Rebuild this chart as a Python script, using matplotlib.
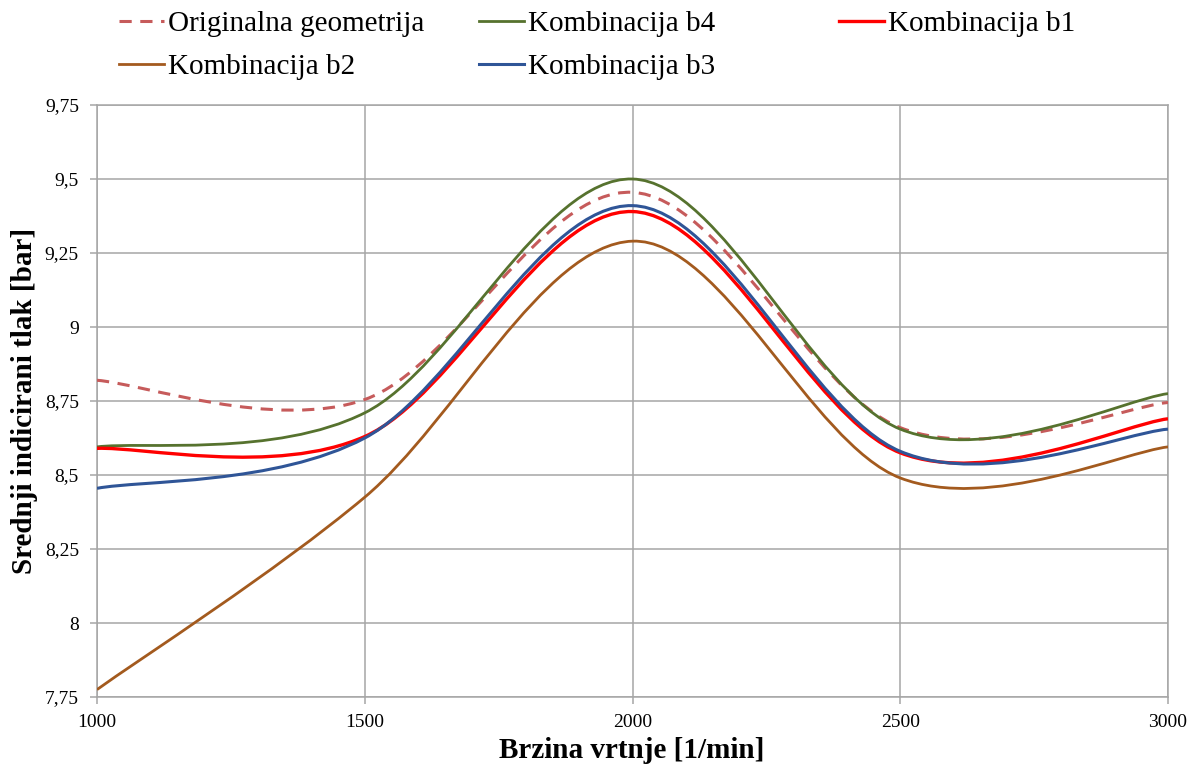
import numpy as np
import matplotlib
matplotlib.use("Agg")
import matplotlib.pyplot as plt
from matplotlib.path import Path
from matplotlib.patches import PathPatch
from matplotlib.lines import Line2D
from matplotlib.ticker import FuncFormatter

# engine speed [1/min]
rpm = [1000, 1500, 2000, 2500, 3000]

# mean indicated pressure [bar]
original = [8.82, 8.755, 9.455, 8.66, 8.745]
b4 = [8.595, 8.71, 9.50, 8.655, 8.775]
b1 = [8.59, 8.63, 9.39, 8.575, 8.69]
b2 = [7.775, 8.425, 9.29, 8.49, 8.595]
b3 = [8.455, 8.625, 9.41, 8.58, 8.655]

names = ["Originalna geometrija", "Kombinacija b4", "Kombinacija b1",
         "Kombinacija b2", "Kombinacija b3"]
colors = ["#C65B5B", "#56722E", "#FF0000", "#A35A1E", "#2F5597"]
styles = [(0, (4, 2.8)), "-", "-", "-", "-"]
widths = [2.2, 2.0, 2.4, 2.0, 2.2]


def SmoothPath(xs, ys):
    # excel-like smoothed line: cubic bezier through every point
    pts = np.column_stack([xs, ys]).astype(float)
    n = len(pts)
    verts = [pts[0]]
    codes = [Path.MOVETO]
    for i in range(n - 1):
        prev = pts[max(i - 1, 0)]
        nxt = pts[min(i + 2, n - 1)]
        c1 = pts[i] + (pts[i + 1] - prev) / 6.0
        c2 = pts[i + 1] - (nxt - pts[i]) / 6.0
        verts += [c1, c2, pts[i + 1]]
        codes += [Path.CURVE4] * 3
    return Path(verts, codes)


plt.rcParams['font.family'] = ['Liberation Serif', 'DejaVu Serif']

fig = plt.figure(figsize=(11.95, 7.69), dpi=100)
ax = fig.add_axes([97 / 1195, 72 / 769, 1071 / 1195, 592 / 769])

series = [original, b4, b1, b2, b3]
handles = []
for vals, name, c, ls, lw in zip(series, names, colors, styles, widths):
    patch = PathPatch(SmoothPath(rpm, vals), fill=False, edgecolor=c,
                      linestyle=ls, linewidth=lw, capstyle='butt', zorder=3)
    ax.add_patch(patch)
    handles.append(Line2D([], [], color=c, linestyle=ls, linewidth=lw))

ax.set_xlim(1000, 3000)
ax.set_ylim(7.75, 9.75)
ax.set_xticks(rpm)
ax.set_yticks(np.arange(7.75, 9.76, 0.25))
ax.yaxis.set_major_formatter(FuncFormatter(lambda v, p: ('%g' % v).replace('.', ',')))

ax.grid(True, color='#A6A6A6', linewidth=1.1)
ax.set_axisbelow(True)
for s in ax.spines.values():
    s.set_color('#A6A6A6')
    s.set_linewidth(1.1)
ax.tick_params(axis='both', colors='#A6A6A6', labelcolor='black',
               labelsize=14, length=5, width=1.1)
ax.tick_params(axis='y', pad=8)
ax.tick_params(axis='x', pad=7)

fig.text(25 / 1195, 1 - 401 / 769, "Srednji indicirani tlak [bar]",
         rotation=90, ha='center', va='center', fontsize=21, fontweight='bold')
fig.text(632 / 1195, 1 - 750 / 769, "Brzina vrtnje [1/min]",
         ha='center', va='center', fontsize=21, fontweight='bold')

# legend laid out as three columns like the original
cols = [([0, 3], 119), ([1, 4], 479), ([2], 839)]
for idx, xpx in cols:
    leg = fig.legend([handles[i] for i in idx], [names[i] for i in idx],
                     loc='upper left', bbox_to_anchor=(xpx / 1195, 1 - 11 / 769),
                     frameon=False, fontsize=21, borderpad=0, borderaxespad=0,
                     handlelength=1.55, handletextpad=0.12, labelspacing=0.55)

fig.savefig("out.png", dpi=100)
